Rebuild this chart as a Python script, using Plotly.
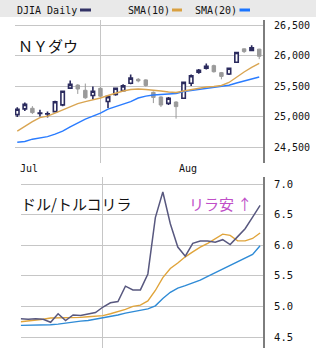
import plotly.graph_objects as go

# ---------------- data (33 trading days, 2018-07-17 .. 2018-08-30) ----------------
dates = ["07-17", "07-18", "07-19", "07-20", "07-23", "07-24", "07-25", "07-26", "07-27",
         "07-30", "07-31", "08-01", "08-02", "08-03", "08-06", "08-07", "08-08", "08-09",
         "08-10", "08-13", "08-14", "08-15", "08-16", "08-17", "08-20", "08-21", "08-22",
         "08-23", "08-24", "08-27", "08-28", "08-29", "08-30"]

dji_open = [25030, 25125, 25135, 25050, 25040, 25080, 25190, 25465, 25515, 25430, 25345,
            25462, 25245, 25363, 25425, 25545, 25610, 25600, 25396, 25320, 25215, 25237,
            25298, 25544, 25725, 25791, 25834, 25719, 25697, 25890, 26109, 26081, 26104]
dji_high = [25150, 25230, 25170, 25110, 25080, 25260, 25420, 25590, 25530, 25540, 25490,
            25480, 25340, 25470, 25530, 25690, 25630, 25610, 25410, 25330, 25320, 25250,
            25570, 25690, 25780, 25870, 25850, 25730, 25800, 26060, 26115, 26170, 26110]
dji_low = [24990, 25090, 25040, 25000, 24985, 25070, 25170, 25450, 25370, 25290, 25280,
           25320, 25140, 25340, 25410, 25530, 25560, 25490, 25220, 25155, 25190, 24965,
           25290, 25500, 25700, 25770, 25720, 25610, 25680, 25880, 26040, 26070, 25940]
dji_close = [25120, 25199, 25064, 25058, 25044, 25242, 25414, 25527, 25451, 25307, 25415,
             25334, 25326, 25462, 25502, 25629, 25584, 25509, 25313, 25188, 25300, 25162,
             25559, 25669, 25759, 25822, 25734, 25657, 25790, 26050, 26064, 26125, 25987]
dji_sma10 = [24760, 24842, 24916, 24982, 25007, 25056, 25105, 25163, 25212, 25245, 25270,
             25303, 25344, 25385, 25418, 25442, 25451, 25442, 25434, 25418, 25401, 25393,
             25418, 25442, 25467, 25484, 25492, 25508, 25558, 25648, 25730, 25804, 25870]
dji_sma20 = [24579, 24590, 24628, 24648, 24669, 24710, 24760, 24830, 24900, 24957, 25007,
             25056, 25122, 25163, 25204, 25245, 25303, 25335, 25352, 25363, 25368, 25377,
             25410, 25426, 25446, 25464, 25479, 25488, 25512, 25549, 25585, 25615, 25648]

try_close = [4.80, 4.79, 4.80, 4.79, 4.74, 4.88, 4.77, 4.86, 4.85, 4.87, 4.90, 4.99,
             5.06, 5.08, 5.33, 5.27, 5.27, 5.53, 6.45, 6.87, 6.35, 5.97, 5.82, 6.03,
             6.07, 6.07, 6.05, 6.09, 6.01, 6.14, 6.27, 6.46, 6.65]
try_sma10 = [4.75, 4.76, 4.77, 4.79, 4.81, 4.81, 4.81, 4.81, 4.82, 4.83, 4.84, 4.85,
             4.88, 4.91, 4.95, 5.00, 5.02, 5.09, 5.26, 5.47, 5.62, 5.71, 5.81, 5.89,
             5.97, 6.03, 6.11, 6.18, 6.16, 6.07, 6.07, 6.11, 6.20]
try_sma20 = [4.69, 4.69, 4.70, 4.70, 4.70, 4.71, 4.73, 4.74, 4.76, 4.77, 4.79, 4.81,
             4.83, 4.86, 4.89, 4.91, 4.94, 4.96, 5.01, 5.13, 5.23, 5.30, 5.34, 5.38,
             5.43, 5.49, 5.55, 5.61, 5.67, 5.72, 5.79, 5.85, 5.99]

dji_ticks = [24500, 25000, 25500, 26000, 26500]
try_ticks = [4.5, 5.0, 5.5, 6.0, 6.5, 7.0]
month_labels = ["Jul", "Aug"]
month_label_pos = [1.5, 22.6]
month_start_idx = 11  # Aug 1

idx = list(range(len(dates)))

W, H = 316, 348
def px(x):
    return x / W
def py(y):
    return 1 - y / H

GRID = "#c6c6c6"
MONO = "DejaVu Sans Mono"
CJK = "Noto Sans CJK JP"

fig = go.Figure()

fig.add_trace(go.Candlestick(
    x=idx, open=dji_open, high=dji_high, low=dji_low, close=dji_close,
    increasing=dict(line=dict(color="#2b2b5e", width=1.6), fillcolor="#ffffff"),
    decreasing=dict(line=dict(color="#9a9a9a", width=1), fillcolor="#9a9a9a"),
    whiskerwidth=0, xaxis="x", yaxis="y", hoverinfo="skip"))
fig.add_trace(go.Scatter(x=idx, y=dji_sma20, mode="lines",
                         line=dict(color="#2a7cff", width=1.4), xaxis="x", yaxis="y"))
fig.add_trace(go.Scatter(x=idx, y=dji_sma10, mode="lines",
                         line=dict(color="#d9a552", width=1.4), xaxis="x", yaxis="y"))

fig.add_trace(go.Scatter(x=idx, y=try_sma20, mode="lines",
                         line=dict(color="#2f8bd6", width=1.4), xaxis="x2", yaxis="y2"))
fig.add_trace(go.Scatter(x=idx, y=try_sma10, mode="lines",
                         line=dict(color="#e0a43a", width=1.4), xaxis="x2", yaxis="y2"))
fig.add_trace(go.Scatter(x=idx, y=try_close, mode="lines",
                         line=dict(color="#58587f", width=1.5), xaxis="x2", yaxis="y2"))

# y ranges from pixel calibration
top_per_px = 2000 / (147 - 25)
top_range = [24500 - (163 - 147) * top_per_px, 26500 + (25 - 20) * top_per_px]
bot_per_px = 2.5 / (337 - 184)
bot_range = [4.5 - (348 - 337) * bot_per_px, 7.0 + (184 - 177) * bot_per_px]

fig.update_layout(
    width=W, height=H, autosize=False,
    margin=dict(l=0, r=0, t=0, b=0),
    paper_bgcolor="white", plot_bgcolor="white",
    showlegend=False, boxgap=0.35,
    xaxis=dict(domain=[px(15), px(263)], range=[-0.3, 32.5], anchor="y",
               tickvals=[month_start_idx], ticktext=[""], showgrid=True,
               gridcolor=GRID, gridwidth=1, zeroline=False, showline=False,
               ticks="", rangeslider=dict(visible=False), fixedrange=True),
    yaxis=dict(domain=[py(163), py(20)], range=top_range, side="right", anchor="x",
               tickvals=dji_ticks, tickformat=",d", showgrid=True, gridcolor=GRID,
               gridwidth=1, zeroline=False, showline=True, linecolor="#7d7d7d",
               linewidth=2, ticks="", ticklabelstandoff=7,
               tickfont=dict(family=MONO, size=10, color="#111111")),
    xaxis2=dict(domain=[px(20.7), px(263)], range=[0, 32.39], anchor="y2",
                tickvals=[month_start_idx], ticktext=[""], showgrid=True,
                gridcolor=GRID, gridwidth=1, zeroline=False, showline=False, ticks=""),
    yaxis2=dict(domain=[0, py(177)], range=bot_range, side="right", anchor="x2",
                tickvals=try_ticks, tickformat=".1f", showgrid=True, gridcolor=GRID,
                gridwidth=1, zeroline=False, showline=True, linecolor="#7d7d7d",
                linewidth=2, ticks="", ticklabelstandoff=7,
                tickfont=dict(family=MONO, size=10.5, color="#111111")),
)

shapes = [
    dict(type="rect", xref="paper", yref="paper", x0=0, x1=1, y0=py(17), y1=1,
         fillcolor="#e9e9e9", line=dict(width=0), layer="below"),
    dict(type="rect", xref="paper", yref="paper", x0=px(80), x1=px(91), y0=py(11.5), y1=py(8.5),
         fillcolor="#333366", line=dict(width=0)),
    dict(type="rect", xref="paper", yref="paper", x0=px(172), x1=px(182), y0=py(11.5), y1=py(8.5),
         fillcolor="#d9a040", line=dict(width=0)),
    dict(type="rect", xref="paper", yref="paper", x0=px(239.5), x1=px(250), y0=py(11.5), y1=py(8.5),
         fillcolor="#1a74ff", line=dict(width=0)),
]
fig.update_layout(shapes=shapes)

ann = []
def text(x, y, s, size, color="#111111", family=MONO, xanchor="left", xref="paper"):
    ann.append(dict(x=x, y=py(y), xref=xref, yref="paper", text=s, showarrow=False,
                    xanchor=xanchor, yanchor="middle",
                    font=dict(family=family, size=size, color=color)))

text(px(15), 10, "DJIA Daily", 10)
text(px(126), 10, "SMA(10)", 10)
text(px(192.5), 10, "SMA(20)", 10)
for lab, pos in zip(month_labels, month_label_pos):
    ann.append(dict(x=pos, y=py(168), xref="x", yref="paper", text=lab, showarrow=False,
                    xanchor="center", yanchor="middle",
                    font=dict(family=MONO, size=10, color="#111111")))
text(px(16), 45.5, "ＮＹダウ", 15, family=CJK, color="#111111")
text(px(19), 203, "ドル/トルコリラ", 15, family=CJK, color="#111111")
text(px(187), 204, "リラ安 ↑", 15, family=CJK, color="#c04fc8")
fig.update_layout(annotations=ann)

fig.write_html("out.html")
